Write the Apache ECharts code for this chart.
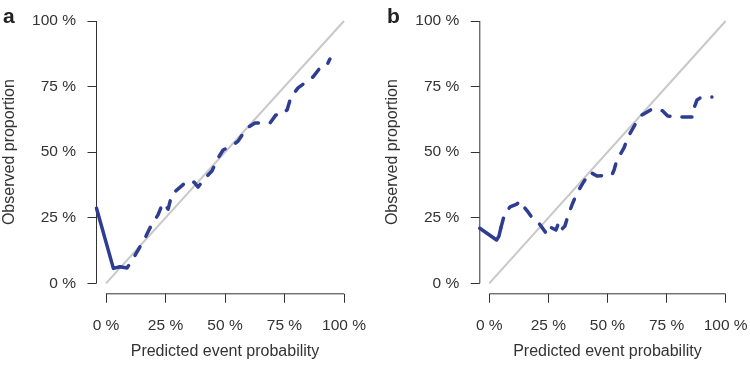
<!DOCTYPE html>
<html>
<head>
<meta charset="utf-8">
<script src="https://cdn.jsdelivr.net/npm/echarts@6.0.0/dist/echarts.min.js"></script>
<style>
  html, body { margin: 0; padding: 0; background: #fff; }
  #main { width: 750px; height: 378px; }
</style>
</head>
<body>
<div id="main"></div>
<script>
// axis ticks (both axes, both panels)
const tickValues = [0, 25, 50, 75, 100];
const tickLabels = ['0 %', '25 %', '50 %', '75 %', '100 %'];

// panel a: predicted (x) vs observed (y), in %
const predA = [-4, 3.1, 5.9, 8.8, 11.8, 16.8, 19.3, 21.8, 23.9, 26.1, 27.7, 30.7, 33.6, 35.3, 37.0, 38.7,
  41.6, 44.5, 47.1, 49.2, 53.4, 55.5, 59.2, 62.6, 68.9, 71.4, 72.7, 76.1, 77.7, 80.7, 83.6, 87.0, 89.9, 92.5, 94.1];
const obsA = [28.6, 5.7, 6.3, 5.8, 10.0, 18.0, 22.6, 26.0, 30.6, 28.3, 34.0, 36.3, 38.6, 37.9, 38.6, 36.7,
  40.1, 42.8, 47.8, 50.8, 52.7, 54.2, 59.2, 61.1, 61.1, 64.2, 63.8, 66.1, 71.0, 74.5, 76.4, 78.7, 82.1, 82.6, 85.5];
const solidA = 3;   // first points drawn as a solid line

// panel b
const predB = [-4, 3.1, 4.1, 4.9, 6.6, 8.8, 11.7, 13.0, 14.3, 16.4, 18.5, 20.6, 24.0, 24.8, 26.5, 28.2, 29.5,
  30.8, 32.0, 33.3, 35.0, 37.1, 39.6, 42.6, 45.6, 51.9, 52.8, 54.0, 57.0, 58.7, 61.6, 64.6, 68.8, 71.3,
  73.4, 75.5, 80.6, 86.1, 86.6, 87.9, 89.1, 94.2];
const obsB = [21.0, 16.5, 18.0, 21.1, 26.8, 29.1, 30.2, 31.4, 29.5, 27.2, 24.5, 23.4, 19.2, 21.8, 21.1, 20.3, 23.4,
  20.7, 21.8, 25.7, 29.9, 34.4, 38.2, 42.4, 40.9, 41.3, 43.2, 47.0, 51.6, 55.8, 60.4, 64.2, 66.4, 66.4,
  65.7, 63.8, 63.4, 63.4, 66.8, 69.9, 70.6, 71.0];
const solidB = 4;

// plot region is padded 4 % on each side (axes drawn at the padded edge)
const lo = -4, hi = 104;

const blue = '#2e3d92';
const axisCol = '#333';
const font = '"Liberation Sans", Arial, Helvetica, sans-serif';

function zip(xs, ys) {
  return xs.map((x, i) => [x, ys[i]]);
}

function axisLabelFmt(v) {
  const i = tickValues.indexOf(v);
  return i >= 0 ? tickLabels[i] : '';
}

function makeAxis(type, idx, name, nameGap) {
  return {
    type: 'value',
    gridIndex: idx,
    min: lo,
    max: hi,
    name: name,
    nameLocation: 'middle',
    nameGap: nameGap,
    nameTextStyle: { color: axisCol, fontSize: 16, fontFamily: font },
    axisLine: { show: false, onZero: false },
    axisTick: { show: true, length: 9, customValues: tickValues, lineStyle: { color: axisCol, width: 1 } },
    axisLabel: {
      color: axisCol, fontSize: 15.5, fontFamily: font,
      margin: type == 'x' ? 24 : 20.5,
      customValues: tickValues,
      formatter: axisLabelFmt
    },
    splitLine: { show: false }
  };
}

function panelSeries(idx, xs, ys, solidN) {
  const pts = zip(xs, ys);
  const axisStyle = { color: axisCol, width: 1 };
  return [
    // axis lines only span 0..100
    {
      type: 'line', xAxisIndex: idx, yAxisIndex: idx,
      data: [[0, lo], [100, lo]], symbol: 'none', silent: true, clip: false,
      lineStyle: axisStyle
    },
    {
      type: 'line', xAxisIndex: idx, yAxisIndex: idx,
      data: [[lo, 0], [lo, 100]], symbol: 'none', silent: true, clip: false,
      lineStyle: axisStyle
    },
    {
      type: 'line', xAxisIndex: idx, yAxisIndex: idx,
      data: [[0, 0], [100, 100]],
      symbol: 'none', silent: true,
      lineStyle: { color: '#c8c8c8', width: 2 }
    },
    {
      type: 'line', xAxisIndex: idx, yAxisIndex: idx,
      data: pts.slice(0, solidN),
      symbol: 'none', clip: false,
      lineStyle: { color: blue, width: 3.5, cap: 'round', join: 'round' }
    },
    {
      type: 'line', xAxisIndex: idx, yAxisIndex: idx,
      data: pts.slice(solidN - 1),
      symbol: 'none', clip: false,
      lineStyle: { color: blue, width: 3.5, type: [10, 12], cap: 'round', join: 'round' }
    }
  ];
}

const chart = echarts.init(document.getElementById('main'), null, { renderer: 'canvas' });

chart.setOption({
  backgroundColor: '#fff',
  animation: false,
  grid: [
    { left: 96.5, top: 10.5, width: 257, height: 283.3, containLabel: false, outerBoundsMode: 'none' },
    { left: 479.8, top: 10.5, width: 255.3, height: 283.3, containLabel: false, outerBoundsMode: 'none' }
  ],
  xAxis: [
    makeAxis('x', 0, 'Predicted event probability', 50),
    makeAxis('x', 1, 'Predicted event probability', 50)
  ],
  yAxis: [
    makeAxis('y', 0, 'Observed proportion', 79),
    makeAxis('y', 1, 'Observed proportion', 79)
  ],
  graphic: [
    { type: 'text', left: 3, top: 7, style: { text: 'a', font: 'bold 21px ' + font, fill: '#222' } },
    { type: 'text', left: 387, top: 7, style: { text: 'b', font: 'bold 21px ' + font, fill: '#222' } }
  ],
  series: [].concat(
    panelSeries(0, predA, obsA, solidA),
    panelSeries(1, predB, obsB, solidB)
  )
});
</script>
</body>
</html>
